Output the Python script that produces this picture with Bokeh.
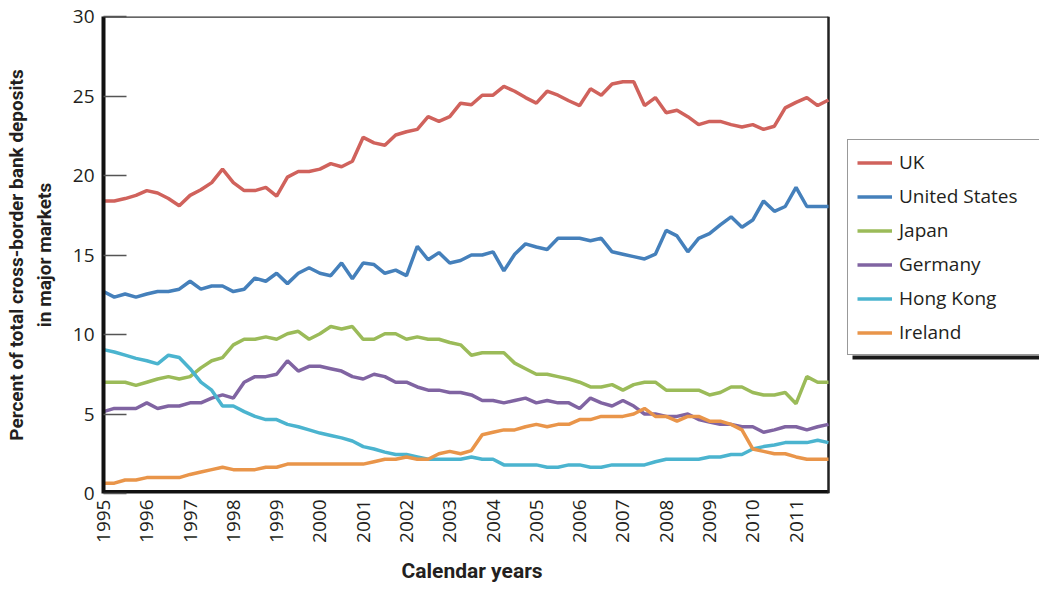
import math
from bokeh.plotting import figure
from bokeh.models import Legend, LegendItem, FixedTicker, Range1d, Title, BoxAnnotation
from bokeh.embed import file_html
from bokeh.resources import INLINE

# ---- data (quarterly, 1995 Q1 .. 2011 Q4) ----
start_year = 1995
n_quarters = 68
quarters = [start_year + q / 4 for q in range(n_quarters)]

uk = [18.4, 18.4, 18.55, 18.75, 19.05, 18.9, 18.55, 18.1, 18.75, 19.1,
      19.55, 20.4, 19.55, 19.05, 19.05, 19.25, 18.7, 19.9, 20.25, 20.25,
      20.4, 20.75, 20.55, 20.9, 22.4, 22.05, 21.9, 22.55, 22.75, 22.9,
      23.7, 23.4, 23.7, 24.55, 24.45, 25.05, 25.05, 25.6, 25.3, 24.9,
      24.55, 25.3, 25.05, 24.7, 24.4, 25.45, 25.05, 25.75, 25.9, 25.9,
      24.4, 24.9, 23.95, 24.1, 23.7, 23.2, 23.4, 23.4, 23.2, 23.05,
      23.2, 22.9, 23.1, 24.25, 24.6, 24.9, 24.4, 24.75]
united_states = [12.7, 12.35, 12.55, 12.35, 12.55, 12.7, 12.7, 12.85, 13.35, 12.85,
                 13.05, 13.05, 12.7, 12.85, 13.55, 13.35, 13.85, 13.2, 13.85, 14.2,
                 13.85, 13.7, 14.5, 13.5, 14.5, 14.4, 13.85, 14.05, 13.7, 15.55,
                 14.7, 15.15, 14.5, 14.65, 15.0, 15.0, 15.2, 14.0, 15.05, 15.7,
                 15.5, 15.35, 16.05, 16.05, 16.05, 15.9, 16.05, 15.2, 15.05, 14.9,
                 14.75, 15.05, 16.55, 16.2, 15.2, 16.05, 16.35, 16.9, 17.4, 16.75,
                 17.2, 18.4, 17.75, 18.05, 19.25, 18.05, 18.05, 18.05]
japan = [7.0, 7.0, 7.0, 6.8, 7.0, 7.2, 7.35, 7.2, 7.35, 7.9,
         8.35, 8.55, 9.35, 9.7, 9.7, 9.85, 9.7, 10.05, 10.2, 9.7,
         10.05, 10.5, 10.35, 10.5, 9.7, 9.7, 10.05, 10.05, 9.7, 9.85,
         9.7, 9.7, 9.5, 9.35, 8.7, 8.85, 8.85, 8.85, 8.2, 7.85,
         7.5, 7.5, 7.35, 7.2, 7.0, 6.7, 6.7, 6.85, 6.5, 6.85,
         7.0, 7.0, 6.5, 6.5, 6.5, 6.5, 6.2, 6.35, 6.7, 6.7,
         6.35, 6.2, 6.2, 6.35, 5.65, 7.35, 7.0, 7.0]
germany = [5.15, 5.35, 5.35, 5.35, 5.7, 5.35, 5.5, 5.5, 5.7, 5.7,
           6.0, 6.2, 6.0, 7.0, 7.35, 7.35, 7.5, 8.35, 7.7, 8.0,
           8.0, 7.85, 7.7, 7.35, 7.2, 7.5, 7.35, 7.0, 7.0, 6.7,
           6.5, 6.5, 6.35, 6.35, 6.2, 5.85, 5.85, 5.7, 5.85, 6.0,
           5.7, 5.85, 5.7, 5.7, 5.35, 6.0, 5.7, 5.5, 5.85, 5.5,
           5.0, 5.0, 4.85, 4.85, 5.0, 4.65, 4.5, 4.35, 4.35, 4.2,
           4.2, 3.85, 4.0, 4.2, 4.2, 4.0, 4.2, 4.35]
hong_kong = [9.05, 8.9, 8.7, 8.5, 8.35, 8.15, 8.7, 8.55, 7.85, 7.0,
             6.5, 5.5, 5.5, 5.15, 4.85, 4.65, 4.65, 4.35, 4.2, 4.0,
             3.8, 3.65, 3.5, 3.3, 2.95, 2.8, 2.6, 2.45, 2.45, 2.3,
             2.15, 2.15, 2.15, 2.15, 2.3, 2.15, 2.15, 1.8, 1.8, 1.8,
             1.8, 1.65, 1.65, 1.8, 1.8, 1.65, 1.65, 1.8, 1.8, 1.8,
             1.8, 2.0, 2.15, 2.15, 2.15, 2.15, 2.3, 2.3, 2.45, 2.45,
             2.8, 2.95, 3.05, 3.2, 3.2, 3.2, 3.35, 3.2]
ireland = [0.65, 0.65, 0.85, 0.85, 1.0, 1.0, 1.0, 1.0, 1.2, 1.35,
           1.5, 1.65, 1.5, 1.5, 1.5, 1.65, 1.65, 1.85, 1.85, 1.85,
           1.85, 1.85, 1.85, 1.85, 1.85, 2.0, 2.15, 2.15, 2.3, 2.15,
           2.15, 2.5, 2.65, 2.5, 2.7, 3.7, 3.85, 4.0, 4.0, 4.2,
           4.35, 4.2, 4.35, 4.35, 4.65, 4.65, 4.85, 4.85, 4.85, 5.0,
           5.35, 4.85, 4.85, 4.55, 4.85, 4.85, 4.55, 4.55, 4.35, 4.0,
           2.8, 2.65, 2.5, 2.5, 2.3, 2.15, 2.15, 2.15]

series_names = ["UK", "United States", "Japan", "Germany", "Hong Kong", "Ireland"]
series_values = [uk, united_states, japan, germany, hong_kong, ireland]
series_colors = ["#D0625C", "#4580BB", "#9BBB59", "#8064A2", "#4BB4CF", "#E9954A"]

x_ticks = list(range(1995, 2012))
y_ticks = [0, 5, 10, 15, 20, 25, 30]
y_min, y_max = 0, 30

TEXT = "#231f20"

# layout: the plotting area spans the full width so the legend can sit to the
# right of the data box; the data box itself is drawn as a border below.
W, H = 1039, 595
LEFT, TOP, BOTTOM = 103, 16, 102
BOX_W = 725                       # width of the data box in pixels
x0, x1 = quarters[0], quarters[-1]
x_end = x0 + (x1 - x0) * (W - LEFT) / BOX_W

p = figure(width=W, height=H, output_backend="svg", toolbar_location=None,
           x_range=Range1d(x0, x_end), y_range=Range1d(y_min, y_max),
           min_border_left=LEFT, min_border_right=0, min_border_top=TOP,
           min_border_bottom=BOTTOM)
p.xgrid.visible = False
p.ygrid.visible = False
p.outline_line_color = None
p.background_fill_color = "white"
p.border_fill_color = "white"

# y axis
ya = p.yaxis[0]
ya.ticker = FixedTicker(ticks=y_ticks)
ya.major_tick_in = 23
ya.major_tick_out = 0
ya.minor_tick_line_color = None
ya.major_tick_line_color = "#555555"
ya.major_tick_line_width = 1.5
ya.axis_line_color = "#111111"
ya.axis_line_width = 4
ya.major_label_text_font = "Open Sans"
ya.major_label_text_font_size = "19px"
ya.major_label_text_color = TEXT
ya.major_label_standoff = 9
ya.axis_label = "Percent of total cross-border bank deposits\nin major markets"
ya.axis_label_text_font = "Roboto"
ya.axis_label_text_font_style = "bold"
ya.axis_label_text_font_size = "19px"
ya.axis_label_text_color = TEXT
ya.axis_label_standoff = 14

# x axis
xa = p.xaxis[0]
xa.ticker = FixedTicker(ticks=x_ticks)
xa.major_label_orientation = math.pi / 2
xa.major_tick_in = 0
xa.major_tick_out = 0
xa.minor_tick_line_color = None
xa.axis_line_color = None
xa.major_label_text_font = "Open Sans"
xa.major_label_text_font_size = "19px"
xa.major_label_text_color = TEXT
xa.major_label_standoff = 6

xtitle = Title(text="Calendar years", align="left", offset=298,
               text_font="Roboto", text_font_style="bold",
               text_font_size="21px", text_color=TEXT, standoff=22)
p.add_layout(xtitle, "below")

# data box border
p.line([x0, x1], [y_min, y_min], line_color="#111111", line_width=7)
p.line([x0, x1], [y_max, y_max], line_color="#333333", line_width=2.5)
p.line([x1, x1], [y_min, y_max], line_color="#222222", line_width=2.5)

items = []
for name, vals, col in zip(series_names, series_values, series_colors):
    r = p.line(quarters, vals, line_color=col, line_width=3.5)
    items.append(LegendItem(label=name, renderers=[r]))

# legend shadow (thick dark bar under the legend box)
LEG_X, LEG_Y = 744, 138
shadow = BoxAnnotation(left=LEG_X + 5, right=W, bottom=LEG_Y - 4, top=LEG_Y,
                       left_units="screen", right_units="screen",
                       bottom_units="screen", top_units="screen",
                       fill_color="#1a1a1a", fill_alpha=1.0, line_color=None)
p.add_layout(shadow)

legend = Legend(items=items, location=(LEG_X, LEG_Y), orientation="vertical",
                glyph_width=35, glyph_height=25, label_height=25,
                spacing=8, padding=9, label_standoff=7, label_width=145,
                label_text_font="Open Sans", label_text_font_size="19px",
                label_text_color=TEXT, border_line_color="#333333",
                border_line_width=1.5, background_fill_color="white",
                background_fill_alpha=1.0, margin=0)
p.add_layout(legend)

open("out.html", "w").write(file_html(p, INLINE))
